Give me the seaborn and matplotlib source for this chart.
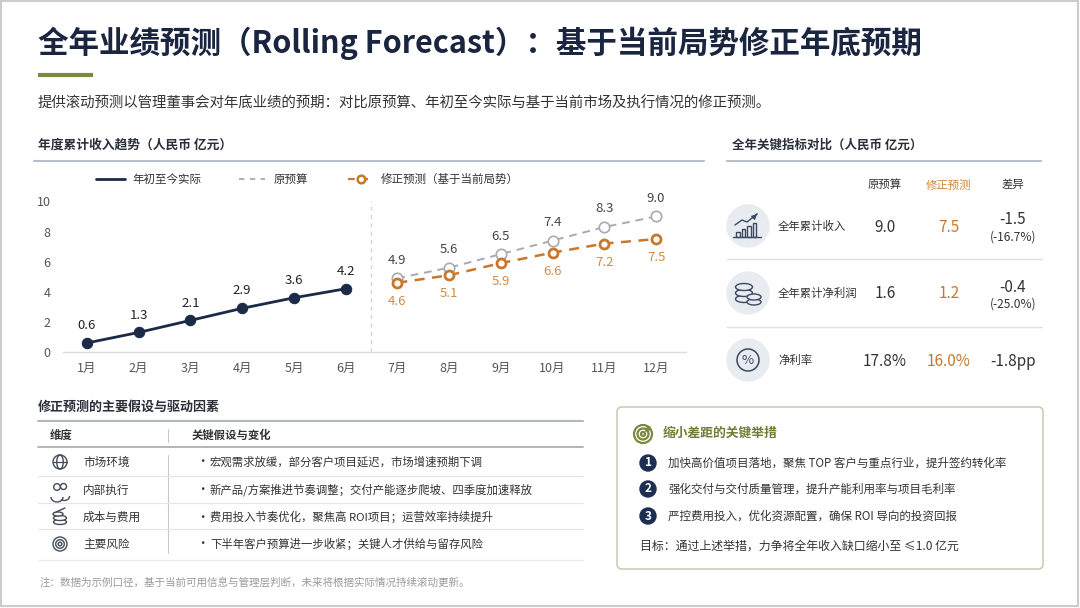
import numpy as np
import pandas as pd
import seaborn as sns
import matplotlib.pyplot as plt
from matplotlib.patches import Circle, Ellipse, Rectangle, FancyBboxPatch, Arc

# ---- data ----
months = ["1月", "2月", "3月", "4月", "5月", "6月",
          "7月", "8月", "9月", "10月", "11月", "12月"]
actual = [0.6, 1.3, 2.1, 2.9, 3.6, 4.2]          # 1-6月
budget = [4.9, 5.6, 6.5, 7.4, 8.3, 9.0]          # 7-12月
forecast = [4.6, 5.1, 5.9, 6.6, 7.2, 7.5]        # 7-12月
y_ticks = [0, 2, 4, 6, 8, 10]

kpi_names = ["全年累计收入", "全年累计净利润", "净利率"]
kpi_budget = [9.0, 1.6, 17.8]
kpi_forecast = [7.5, 1.2, 16.0]
kpi_diff = [-1.5, -0.4, -1.8]
kpi_diff_pct = [-16.7, -25.0, None]

factor_dims = ["市场环境", "内部执行", "成本与费用", "主要风险"]
factor_notes = ["宏观需求放缓，部分客户项目延迟，市场增速预期下调",
                "新产品/方案推进节奏调整；交付产能逐步爬坡、四季度加速释放",
                "费用投入节奏优化，聚焦高 ROI项目；运营效率持续提升",
                "下半年客户预算进一步收紧；关键人才供给与留存风险"]

actions = ["加快高价值项目落地，聚焦 TOP 客户与重点行业，提升签约转化率",
           "强化交付与交付质量管理，提升产能利用率与项目毛利率",
           "严控费用投入，优化资源配置，确保 ROI 导向的投资回报"]

NAVY = "#1b2a47"
ORANGE = "#c8782c"
GREY = "#a7abb1"
OLIVE = "#7b8a3c"
TXT = "#333333"

sns.set_theme(style="white")
plt.rcParams['font.family'] = ['Noto Sans CJK SC', 'DejaVu Sans']

fig = plt.figure(figsize=(10.8, 6.08), dpi=100)
bg = fig.add_axes([0, 0, 1, 1])
bg.set_xlim(0, 1080)
bg.set_ylim(608, 0)
bg.axis("off")


def px_axes(x0, y0, x1, y1):
    return fig.add_axes([x0 / 1080, 1 - y1 / 608, (x1 - x0) / 1080, (y1 - y0) / 608])


# frame
bg.add_patch(Rectangle((1, 1), 1077, 605, fill=False, ec="#cccccc", lw=1.5))

# ---- header ----
bg.text(38, 43, "全年业绩预测（Rolling Forecast）：基于当前局势修正年底预期",
        fontsize=22, fontweight="bold", color="#1a2540", va="center")
bg.plot([38, 93], [75, 75], color=OLIVE, lw=3, solid_capstyle="butt")
bg.text(38, 104, "提供滚动预测以管理董事会对年底业绩的预期：对比原预算、年初至今实际与基于当前市场及执行情况的修正预测。",
        fontsize=10.4, color=TXT, va="center")

# ---- section titles ----
bg.text(38, 145, "年度累计收入趋势（人民币 亿元）", fontsize=9.2, fontweight="bold", color="#2a2f3a", va="center")
bg.plot([34, 704], [161, 161], color="#b8bfc8", lw=1.5)
bg.text(732, 145, "全年关键指标对比（人民币 亿元）", fontsize=9, fontweight="bold", color="#2a2f3a", va="center")
bg.plot([727, 1041], [161, 161], color="#b8bfc8", lw=1.5)

# ---- legend ----
bg.plot([96, 125], [179, 179], color=NAVY, lw=2)
bg.text(132, 179, "年初至今实际", fontsize=8.3, color=TXT, va="center")
bg.plot([239, 265], [179, 179], color=GREY, lw=1.3, linestyle=(0, (3, 3)))
bg.text(274, 179, "原预算", fontsize=8.3, color=TXT, va="center")
bg.plot([348, 374], [179, 179], color=ORANGE, lw=1.6, linestyle=(0, (3, 3)))
bg.plot([361], [179], "o", ms=5.5, mfc="white", mec=ORANGE, mew=1.8)
bg.text(381, 179, "修正预测（基于当前局势）", fontsize=8.3, color=TXT, va="center")

# ---- line chart ----
ax = px_axes(63, 190, 686, 352)
df_a = pd.DataFrame({"m": np.arange(6), "v": actual})
df_b = pd.DataFrame({"m": np.arange(6, 12), "v": budget})
df_f = pd.DataFrame({"m": np.arange(6, 12), "v": forecast})

ax.axvline(5.5, ymin=0, ymax=0.93, color="#d3d6da", lw=1, linestyle=(0, (3, 3)))
sns.lineplot(data=df_b, x="m", y="v", ax=ax, color=GREY, lw=1.4, linestyle=(0, (4, 3)),
             marker="o", markersize=7.5, markerfacecolor="white", markeredgecolor=GREY,
             markeredgewidth=1.2)
sns.lineplot(data=df_f, x="m", y="v", ax=ax, color=ORANGE, lw=1.8, linestyle=(0, (4, 3)),
             marker="o", markersize=6.5, markerfacecolor="white", markeredgecolor=ORANGE,
             markeredgewidth=2)
sns.lineplot(data=df_a, x="m", y="v", ax=ax, color=NAVY, lw=2,
             marker="o", markersize=7.5, markeredgecolor=NAVY)

for m, v in zip(df_a.m, df_a.v):
    ax.annotate(f"{v:.1f}", (m, v), xytext=(0, 12.5), textcoords="offset points",
                ha="center", va="center", fontsize=9.5, color="#222222")
for m, v in zip(df_b.m, df_b.v):
    ax.annotate(f"{v:.1f}", (m, v), xytext=(0, 13), textcoords="offset points",
                ha="center", va="center", fontsize=9.5, color="#444444")
for m, v in zip(df_f.m, df_f.v):
    ax.annotate(f"{v:.1f}", (m, v), xytext=(0, -13.5), textcoords="offset points",
                ha="center", va="center", fontsize=9.5, color="#d28b45")

ax.set_xlim(-0.464, 11.58)
ax.set_ylim(0, 10.76)
ax.set_xticks(range(12))
ax.set_xticklabels(months)
ax.set_yticks(y_ticks)
ax.set_xlabel("")
ax.set_ylabel("")
ax.tick_params(axis="both", length=0, labelsize=9, colors="#555555")
ax.tick_params(axis="x", pad=7)
ax.tick_params(axis="y", pad=9)
for s in ["left", "top", "right"]:
    ax.spines[s].set_visible(False)
ax.spines["bottom"].set_color("#d8dbdf")
ax.spines["bottom"].set_linewidth(1)
ax.patch.set_alpha(0)
for t in ax.texts:
    t.set_clip_on(False)

# ---- KPI table ----
col_x = [885, 949, 1013]
bg.text(col_x[0], 185, "原预算", fontsize=8.2, fontweight="medium", color="#333333", ha="center", va="center")
bg.text(col_x[1], 185, "修正预测", fontsize=8.2, fontweight="medium", color="#d2843a", ha="center", va="center")
bg.text(col_x[2], 185, "差异", fontsize=8.2, fontweight="medium", color="#333333", ha="center", va="center")
row_y = [226, 293, 360]
for y in [259, 327]:
    bg.plot([727, 1042], [y, y], color="#dde0e4", lw=1)

ICON = "#3b4a63"
for i, y in enumerate(row_y):
    bg.add_patch(Circle((748, y), 21, color="#e8ebef", zorder=2))
    bg.text(778, y, kpi_names[i], fontsize=8.2, color=TXT, va="center")
    unit = "%" if i == 2 else ""
    bg.text(col_x[0], y + 1, f"{kpi_budget[i]:.1f}{unit}", fontsize=11, color="#333333", ha="center", va="center")
    bg.text(col_x[1], y + 1, f"{kpi_forecast[i]:.1f}{unit}", fontsize=11, color="#c8782c", ha="center", va="center")
    if kpi_diff_pct[i] is None:
        bg.text(col_x[2], y + 1, f"{kpi_diff[i]:.1f}pp", fontsize=11, color="#333333", ha="center", va="center")
    else:
        bg.text(col_x[2], y - 6, f"{kpi_diff[i]:.1f}", fontsize=11, color="#333333", ha="center", va="center")
        bg.text(col_x[2], y + 11, f"({kpi_diff_pct[i]:.1f}%)", fontsize=8.6, color="#333333", ha="center", va="center")

# icon 1: bars with arrow
y = row_y[0]
for k, h in enumerate([5, 8, 11, 14]):
    bg.add_patch(Rectangle((736 + k * 5.5, y + 11 - h), 3.5, h, fill=False, ec=ICON, lw=1, zorder=3))
bg.plot([733, 761], [y + 11, y + 11], color=ICON, lw=1, zorder=3)
bg.plot([735, 742, 747, 757], [y - 1, y - 6, y - 4, y - 12], color=ICON, lw=1, zorder=3)
bg.annotate("", xy=(759, y - 14), xytext=(755, y - 10),
            arrowprops=dict(arrowstyle="-|>", color=ICON, lw=1, mutation_scale=7), zorder=3)
# icon 2: coins
y = row_y[1]
for cy in [y + 6, y, y - 6]:
    bg.add_patch(Ellipse((744, cy), 17, 7, fc="#e8ebef", ec=ICON, lw=1, zorder=3))
for cy in [y + 9, y + 4]:
    bg.add_patch(Ellipse((754, cy), 14, 6, fc="#e8ebef", ec=ICON, lw=1, zorder=4))
# icon 3: percent
y = row_y[2]
bg.add_patch(Circle((748, y), 11, fill=False, ec=ICON, lw=1.1, zorder=3))
bg.text(748, y, "%", fontsize=9.5, color=ICON, ha="center", va="center", zorder=4)

# ---- assumptions table ----
bg.text(38, 407, "修正预测的主要假设与驱动因素", fontsize=9.4, fontweight="bold", color="#2a2f3a", va="center")
bg.plot([38, 583], [421, 421], color="#b3b9c1", lw=1.5)
bg.text(50, 435, "维度", fontsize=8.2, fontweight="bold", color="#333333", va="center")
bg.text(192, 435, "关键假设与变化", fontsize=8.2, fontweight="bold", color="#333333", va="center")
bg.plot([168, 168], [429, 442], color="#c5c9ce", lw=0.8)
bg.plot([38, 583], [447, 447], color="#aab0b8", lw=1.3)
bg.plot([168, 168], [455, 553], color="#c5c9ce", lw=0.8)
for yy in [476, 503, 529]:
    bg.plot([38, 583], [yy, yy], color="#e3e5e8", lw=0.8)
bg.plot([38, 583], [560, 560], color="#e8eaec", lw=0.8)

fac_y = [462, 490, 517, 544]
for i, y in enumerate(fac_y):
    bg.text(83, y, factor_dims[i], fontsize=8.4, color=TXT, va="center")
    bg.text(196, y, "•", fontsize=9, color=TXT, va="center")
    bg.text(210, y, factor_notes[i], fontsize=8.2, color=TXT, va="center")

IC2 = "#444c58"
# globe
y = fac_y[0]
bg.add_patch(Circle((60, y), 7, fill=False, ec=IC2, lw=1))
bg.add_patch(Ellipse((60, y), 6.5, 14, fill=False, ec=IC2, lw=1))
bg.plot([53, 67], [y, y], color=IC2, lw=0.9)
# people
y = fac_y[1]
bg.add_patch(Circle((57, y - 3), 3.3, fill=False, ec=IC2, lw=1))
bg.add_patch(Circle((63.5, y - 3.5), 3, fill=False, ec=IC2, lw=1))
bg.add_patch(Arc((57, y + 7), 12, 10, theta1=0, theta2=180, ec=IC2, lw=1))
bg.add_patch(Arc((64.5, y + 6), 10, 9, theta1=0, theta2=130, ec=IC2, lw=1))
# coins in hand
y = fac_y[2]
bg.add_patch(Ellipse((60, y + 5), 13, 5, fill=False, ec=IC2, lw=1))
bg.add_patch(Ellipse((60, y + 1), 13, 5, fc="white", ec=IC2, lw=1))
bg.add_patch(Ellipse((58, y - 3), 10, 4, fc="white", ec=IC2, lw=1))
bg.plot([56, 65], [y - 5, y - 9], color=IC2, lw=1)
# target
y = fac_y[3]
for r in [7, 4.3, 1.8]:
    bg.add_patch(Circle((60, y), r, fill=False, ec=IC2, lw=1))

bg.text(40, 582, "注：数据为示例口径，基于当前可用信息与管理层判断，未来将根据实际情况持续滚动更新。",
        fontsize=7.6, color="#9a9a9a", va="center")

# ---- action box ----
bg.add_patch(FancyBboxPatch((617, 407), 426, 162, boxstyle="round,pad=0,rounding_size=5",
                            fc="white", ec="#cdcdb6", lw=1.2))
for r in [9, 5.5, 2]:
    bg.add_patch(Circle((643, 434), r, fill=False, ec=OLIVE, lw=1.6))
bg.annotate("", xy=(653, 424), xytext=(644, 433),
            arrowprops=dict(arrowstyle="-|>", color=OLIVE, lw=1.3, mutation_scale=7))
bg.text(663, 433, "缩小差距的关键举措", fontsize=9.2, fontweight="bold", color="#6e7d34", va="center")
act_y = [463, 489, 516]
for i, y in enumerate(act_y):
    bg.add_patch(Circle((648, y), 8, color="#1c2f52"))
    bg.text(648, y, str(i + 1), fontsize=8.5, fontweight="bold", color="white", ha="center", va="center")
    bg.text(668, y, actions[i], fontsize=8.3, color=TXT, va="center")
bg.text(640, 546, "目标：通过上述举措，力争将全年收入缺口缩小至 ≤1.0 亿元", fontsize=8.6, color=TXT, va="center")

fig.savefig("out.png", dpi=100)
